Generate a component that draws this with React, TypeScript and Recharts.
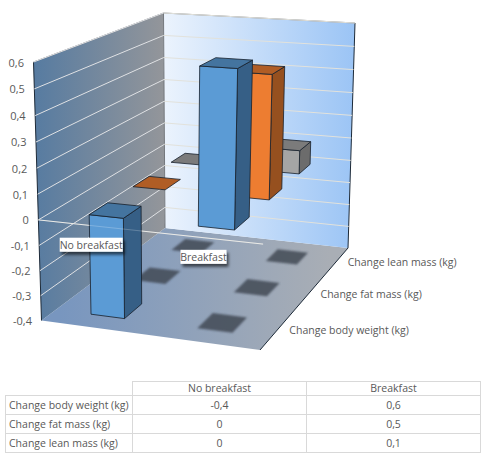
import React from 'react';
import { BarChart, Bar, XAxis, YAxis, CartesianGrid, ReferenceLine } from 'recharts';

const categories = ['No breakfast', 'Breakfast'];
const seriesNames = ['Change body weight (kg)', 'Change fat mass (kg)', 'Change lean mass (kg)'];
const bodyWeight = [-0.4, 0.6];
const fatMass = [0, 0.5];
const leanMass = [0, 0.1];
const seriesValues = [bodyWeight, fatMass, leanMass];
const seriesKeys = ['body', 'fat', 'lean'];
const yTicks = [-0.4, -0.3, -0.2, -0.1, 0, 0.1, 0.2, 0.3, 0.4, 0.5, 0.6];

const chartData = categories.map((name, i) => ({
  name,
  body: bodyWeight[i],
  fat: fatMass[i],
  lean: leanMass[i]
}));

const FONT = '"Open Sans", sans-serif';
const FONT_SIZE = 10.5;
const TEXT = '#595959';

// flat plot rect that recharts lays out, later bent into the 3D box
const PLOT = { x: 20, y: 20, w: 400, h: 300 };
const BAR_SIZE = PLOT.w * 0.16;
const DEPTH_CENTERS = [1 / 6, 1 / 2, 5 / 6];
const DEPTH_HALF = 0.0675;

const PALETTE = [
  { front: '#5b9bd5', top: '#44749f', side: '#365f86' },
  { front: '#ed7d31', top: '#b05d25', side: '#96501f' },
  { front: '#a5a5a5', top: '#7b7b7b', side: '#6c6c6c' }
];

type Pt = [number, number];

// unit square -> quad, corners given as (0,0) (1,0) (1,1) (0,1)
const makeQuad = (p0: Pt, p1: Pt, p2: Pt, p3: Pt) => {
  const dx1 = p1[0] - p2[0];
  const dy1 = p1[1] - p2[1];
  const dx2 = p3[0] - p2[0];
  const dy2 = p3[1] - p2[1];
  const sx = p0[0] - p1[0] + p2[0] - p3[0];
  const sy = p0[1] - p1[1] + p2[1] - p3[1];
  const den = dx1 * dy2 - dx2 * dy1;
  const g = (sx * dy2 - dx2 * sy) / den;
  const h = (dx1 * sy - sx * dy1) / den;
  const a = p1[0] - p0[0] + g * p1[0];
  const b = p3[0] - p0[0] + h * p3[0];
  const d = p1[1] - p0[1] + g * p1[1];
  const e = p3[1] - p0[1] + h * p3[1];
  return (u: number, v: number): Pt => {
    const w = g * u + h * v + 1;
    return [(a * u + b * v + p0[0]) / w, (d * u + e * v + p0[1]) / w];
  };
};

const floorQuad = makeQuad([41.5, 320.5], [260, 350], [348, 248], [165, 228]);
const ceilQuad = makeQuad([33.5, 62], [268, 78], [355, 23], [163.5, 13]);

const project = (u: number, d: number, t: number): Pt => {
  const f = floorQuad(u, d);
  const c = ceilQuad(u, d);
  // the reference's ticks bunch up slightly toward the floor
  const s = t - 0.045 * t * (1 - t);
  return [f[0] + (c[0] - f[0]) * s, f[1] + (c[1] - f[1]) * s];
};

const toU = (x: number) => (x - PLOT.x) / PLOT.w;
const toT = (y: number) => (PLOT.y + PLOT.h - y) / PLOT.h;
const pts = (list: Pt[]) => list.map((p) => `${p[0].toFixed(1)},${p[1].toFixed(1)}`).join(' ');

// drawn as its own svg behind the chart so the grid and bars always sit on top
const Walls = () => (
  <svg width={485} height={460} style={{ position: 'absolute', left: 0, top: 0 }}>
    <defs>
      <linearGradient id="leftWall" gradientUnits="userSpaceOnUse" x1="33" y1="0" x2="165" y2="0">
        <stop offset="0%" stopColor="#567ba1" />
        <stop offset="100%" stopColor="#94969a" />
      </linearGradient>
      <linearGradient id="backWall" gradientUnits="userSpaceOnUse" x1="165" y1="0" x2="355" y2="0">
        <stop offset="0%" stopColor="#ebf3fd" />
        <stop offset="100%" stopColor="#9bc4f5" />
      </linearGradient>
      <linearGradient id="floorFill" gradientUnits="userSpaceOnUse" x1="60" y1="0" x2="330" y2="0">
        <stop offset="0%" stopColor="#7896bf" />
        <stop offset="100%" stopColor="#a9aeb5" />
      </linearGradient>
      <filter id="floorShadow" x="-30%" y="-30%" width="160%" height="160%">
        <feGaussianBlur stdDeviation="0.9" />
      </filter>
      <filter id="labelShadow" x="-20%" y="-40%" width="150%" height="200%">
        <feDropShadow dx="2" dy="3" stdDeviation="1.6" floodColor="#000" floodOpacity="0.6" />
      </filter>
    </defs>
    <polygon points={pts([project(0, 0, 0), project(0, 1, 0), project(1, 1, 0), project(1, 0, 0)])} fill="url(#floorFill)" />
    <polygon points={pts([project(0, 0, 0), project(0, 1, 0), project(0, 1, 1), project(0, 0, 1)])} fill="url(#leftWall)" />
    <polygon points={pts([project(0, 1, 0), project(1, 1, 0), project(1, 1, 1), project(0, 1, 1)])} fill="url(#backWall)" />
    <g fill="none">
      <polyline points={pts([project(0, 0, 0), project(0, 0, 1)])} stroke="#1d2a38" strokeWidth={1} />
      <polyline points={pts([project(0, 0, 1), project(0, 1, 1), project(1, 1, 1)])} stroke="#7d8186" strokeWidth={1} />
      <polyline points={pts([project(0, 1, 0), project(0, 1, 1)])} stroke="#73777c" strokeWidth={1} />
      <polyline points={pts([project(1, 1, 1), project(1, 1, 0), project(1, 0, 0)])} stroke="#1d2a38" strokeWidth={1} />
    </g>
    {seriesNames.map((name, i) => {
      const p = project(1, DEPTH_CENTERS[i], 0);
      return (
        <text key={name} x={p[0] + 12} y={p[1]} dominantBaseline="central" fontFamily={FONT} fontSize={FONT_SIZE} fill={TEXT}>
          {name}
        </text>
      );
    })}
  </svg>
);

const GridLine = (props: any) => {
  const t = toT(props.y1);
  const isZero = Math.abs(t - 0.4) < 0.001;
  if (t < 0.001) return null;
  return (
    <g fill="none" strokeWidth={1}>
      <polyline points={pts([project(0, 0, t), project(0, 1, t)])} stroke="#dfe1e4" />
      <polyline points={pts([project(0, 1, t), project(1, 1, t)])} stroke="#e2e2dc" />
      {isZero && <polyline points={pts([project(0, 0, t), project(1, 0, t)])} stroke="#e4e4e0" />}
    </g>
  );
};

const ZeroPlaneLine = (props: any) => {
  const t = toT(props.y1);
  return <polyline points={pts([project(0, 0, t), project(1, 0, t)])} fill="none" stroke="#ffffff" strokeOpacity={0.22} strokeWidth={1} />;
};

const Bar3D = (props: any) => {
  const { x, y, width, height, depth } = props;
  const colors = PALETTE[depth];
  const u0 = toU(x);
  const u1 = toU(x + width);
  const d0 = DEPTH_CENTERS[depth] - DEPTH_HALF;
  const d1 = DEPTH_CENTERS[depth] + DEPTH_HALF;
  const tA = toT(y);
  const tB = toT(y + height);
  const t0 = Math.min(tA, tB);
  const t1 = Math.max(tA, tB);
  const line = '#16202b';
  return (
    <g>
      {t0 > 0.001 && (
        <polygon
          points={pts([project(u0, d0, 0), project(u1, d0, 0), project(u1, d1, 0), project(u0, d1, 0)])}
          fill="#3c4450"
          opacity={0.8}
          filter="url(#floorShadow)"
        />
      )}
      {t1 - t0 > 0.001 && (
        <g>
          <polygon points={pts([project(u1, d0, t0), project(u1, d1, t0), project(u1, d1, t1), project(u1, d0, t1)])} fill={colors.side} stroke={line} strokeWidth={0.8} />
          <polygon points={pts([project(u0, d0, t0), project(u1, d0, t0), project(u1, d0, t1), project(u0, d0, t1)])} fill={colors.front} stroke={line} strokeWidth={0.8} />
        </g>
      )}
      <polygon points={pts([project(u0, d0, t1), project(u1, d0, t1), project(u1, d1, t1), project(u0, d1, t1)])} fill={colors.top} stroke={line} strokeWidth={0.8} />
    </g>
  );
};

const ValueTick = (props: any) => {
  const { y, payload } = props;
  const p = project(0, 0, toT(y));
  return (
    <text x={p[0] - 9.5} y={p[1]} textAnchor="end" dominantBaseline="central" fontFamily={FONT} fontSize={11} fill={TEXT}>
      {String(payload.value).replace('.', ',')}
    </text>
  );
};

const CategoryTick = (props: any) => {
  const { x, payload } = props;
  const p = project(toU(x), 0, 0.4);
  const boxW = payload.value.length > 9 ? 63 : 46;
  const cy = p[1] + 19;
  return (
    <g>
      <rect x={p[0] - 1 - boxW / 2} y={cy - 7} width={boxW} height={14} fill="#fff" filter="url(#labelShadow)" />
      <text x={p[0] - 1} y={cy} textAnchor="middle" dominantBaseline="central" fontFamily={FONT} fontSize={FONT_SIZE} fill={TEXT}>
        {payload.value}
      </text>
    </g>
  );
};

const cellStyle: React.CSSProperties = {
  border: '1px solid #d9d9d9',
  padding: 0,
  textAlign: 'center',
  overflow: 'hidden',
  whiteSpace: 'nowrap'
};

const DataTable = () => (
  <table
    style={{
      position: 'absolute',
      left: 5,
      top: 381,
      borderCollapse: 'collapse',
      tableLayout: 'fixed',
      width: 475,
      fontFamily: FONT,
      fontSize: FONT_SIZE,
      lineHeight: '13px',
      color: TEXT
    }}
  >
    <colgroup>
      <col style={{ width: 127 }} />
      <col style={{ width: 174 }} />
      <col style={{ width: 174 }} />
    </colgroup>
    <tbody>
      <tr style={{ height: 14 }}>
        <td style={{ ...cellStyle, borderTop: 'none', borderLeft: 'none' }} />
        {categories.map((c) => (
          <td key={c} style={cellStyle}>{c}</td>
        ))}
      </tr>
      {seriesNames.map((name, i) => (
        <tr key={name} style={{ height: 19 }}>
          <td style={{ ...cellStyle, textAlign: 'left', paddingLeft: 3 }}>{name}</td>
          {seriesValues[i].map((v, j) => (
            <td key={j} style={cellStyle}>{String(v).replace('.', ',')}</td>
          ))}
        </tr>
      ))}
    </tbody>
  </table>
);

export default function App() {
  return (
    <div style={{ position: 'absolute', left: 0, top: 0, width: 485, height: 460 }}>
      <Walls />
      <div style={{ position: 'absolute', left: 0, top: 0 }}>
        <BarChart
          width={485}
          height={460}
          data={chartData}
          margin={{ top: PLOT.y, left: PLOT.x - 1, right: 485 - PLOT.x - PLOT.w, bottom: 460 - PLOT.y - PLOT.h - 1 }}
          barSize={BAR_SIZE}
          barGap={-BAR_SIZE}
        >
          <CartesianGrid vertical={false} horizontal={(p: any) => <GridLine key={p.key ?? p.y1} {...p} />} />
          <YAxis
            type="number"
            domain={[-0.4, 0.6]}
            ticks={yTicks}
            interval={0}
            width={1}
            axisLine={false}
            tickLine={false}
            tick={<ValueTick />}
          />
          {[2, 1, 0].map((depth) => (
            <Bar
              key={seriesKeys[depth]}
              dataKey={seriesKeys[depth]}
              isAnimationActive={false}
              shape={(p: any) => <Bar3D {...p} depth={depth} />}
            />
          ))}
          <ReferenceLine y={0} shape={(p: any) => <ZeroPlaneLine {...p} />} />
          <XAxis dataKey="name" height={1} axisLine={false} tickLine={false} interval={0} tick={<CategoryTick />} />
        </BarChart>
      </div>
      <DataTable />
    </div>
  );
}
